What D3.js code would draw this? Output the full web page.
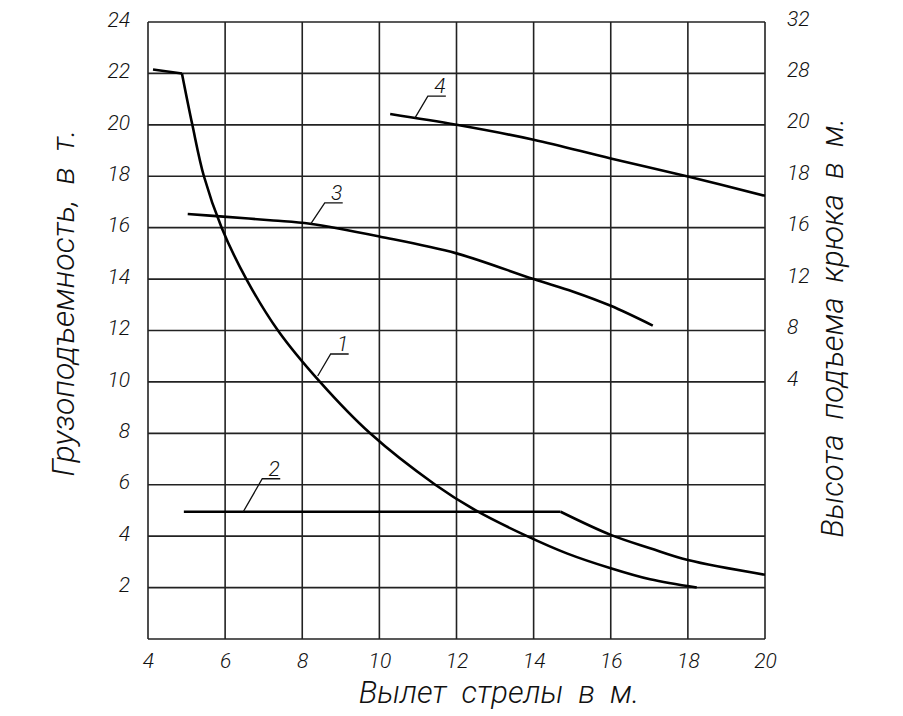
<!DOCTYPE html>
<html>
<head>
<meta charset="utf-8">
<script src="https://cdn.jsdelivr.net/npm/d3@7"></script>
<style>
  html, body { margin: 0; padding: 0; background: #fff; }
  svg { display: block; }
  text { font-family: Roboto, "Noto Sans", sans-serif; font-weight: 300; font-style: italic; fill: #111; white-space: pre; }
</style>
</head>
<body>
<svg id="chart" width="903" height="716"></svg>
<script>
// значения прочитаны с исходного графика
var xTicks = [4, 6, 8, 10, 12, 14, 16, 18, 20];
var yTicks = [2, 4, 6, 8, 10, 12, 14, 16, 18, 20, 22, 24];
var rightTickPos = [24, 22, 20, 18, 16, 14, 12, 10];
var rightTickLabels = ['32', '28', '20', '18', '16', '12', '8', '4'];

var curve1 = [[4.13, 22.15], [4.88, 22.0], [5.15, 20], [5.45, 18], [5.91, 16], [6.55, 14],
    [7.37, 12], [8.46, 10], [9.76, 8], [11.45, 6], [12.5, 5.0],
    [13.83, 4.0], [14.86, 3.33], [16, 2.75], [17.02, 2.32], [18.23, 2.0]];
var curve2 = [[4.93, 4.95], [14.7, 4.95], [16, 4.05], [17.02, 3.53], [18, 3.07], [20, 2.5]];
var curve3 = [[5.03, 16.53], [5.95, 16.43], [7.25, 16.28], [8.2, 16.15], [10.02, 15.65],
    [12, 15.0], [14, 14.0], [15.03, 13.51], [16, 12.96], [17.09, 12.19]];
var curve4 = [[10.28, 20.42], [12, 20.0], [14, 19.42], [16, 18.69], [18, 17.99], [20, 17.24]];

// номер кривой и точка, к которой идёт выноска
var calloutNames = ['1', '2', '3', '4'];
var calloutAt = [[8.4, 10.23], [6.47, 4.95], [8.22, 16.15], [10.92, 20.26]];

var xTitle = 'Вылет  стрелы  в  м.';
var yTitle = 'Грузоподъемность,  в  т.';
var y2Title = 'Высота  подъема  крюка  в  м.';

(function () {
    var svg = d3.select('#chart');
    var left = 148, right = 765, top = 22, bottom = 639;

    var x = d3.scaleLinear().domain([4, 20]).range([left, right]);
    var y = d3.scaleLinear().domain([0, 24]).range([bottom, top]);

    // сетка
    var grid = svg.append('g').attr('stroke', '#222').attr('stroke-width', 1.6);
    grid.selectAll('line.v')
        .data(xTicks)
        .enter()
        .append('line')
        .attr('x1', function (d) { return x(d); })
        .attr('x2', function (d) { return x(d); })
        .attr('y1', y(0))
        .attr('y2', y(24));
    grid.selectAll('line.h')
        .data([0].concat(yTicks))
        .enter()
        .append('line')
        .attr('x1', x(4))
        .attr('x2', x(20))
        .attr('y1', function (d) { return y(d); })
        .attr('y2', function (d) { return y(d); });

    // подписи осей
    var xAxis = d3.axisBottom(x).tickValues(xTicks).tickSize(0).tickPadding(14);
    var yAxis = d3.axisLeft(y).tickValues(yTicks).tickSize(0).tickPadding(18);
    var y2Axis = d3.axisRight(y).tickValues(rightTickPos).tickSize(0).tickPadding(22)
        .tickFormat(function (d, i) { return rightTickLabels[i]; });

    function styleAxis(g) {
        g.select('.domain').remove();
        g.selectAll('text')
            .style('font-size', '21px')
            .attr('fill', '#111');
    }
    svg.append('g').attr('transform', 'translate(0,' + bottom + ')').call(xAxis).call(styleAxis);
    svg.append('g').attr('transform', 'translate(' + left + ',0)').call(yAxis).call(styleAxis)
        .selectAll('text').attr('dy', '0.2em');
    svg.append('g').attr('transform', 'translate(' + right + ',0)').call(y2Axis).call(styleAxis)
        .selectAll('text').attr('dy', '0.15em');
    // d3 ставит свой шрифт на группу оси
    svg.selectAll('g').attr('font-family', null);

    // кривые: до излома прямая, дальше плавная
    var straight = d3.line()
        .x(function (d) { return x(d[0]); })
        .y(function (d) { return y(d[1]); });
    var smooth = d3.line()
        .curve(d3.curveCatmullRom.alpha(0.5))
        .x(function (d) { return x(d[0]); })
        .y(function (d) { return y(d[1]); });

    function drawCurve(points, kink) {
        var g = svg.append('g')
            .attr('fill', 'none')
            .attr('stroke', '#000')
            .attr('stroke-width', 2.6)
            .attr('stroke-linejoin', 'round');
        if (kink > 0) {
            g.append('path').attr('d', straight(points.slice(0, kink + 1)));
        }
        g.append('path').attr('d', smooth(points.slice(kink)));
    }
    drawCurve(curve1, 1);
    drawCurve(curve2, 1);
    drawCurve(curve3, 0);
    drawCurve(curve4, 0);

    // выноски с номерами
    var leaders = [[13, -22], [19, -33], [14, -21], [13, -22]];
    var shelf = 18;
    calloutAt.forEach(function (p, i) {
        var px = x(p[0]), py = y(p[1]);
        var tx = px + leaders[i][0], ty = py + leaders[i][1];
        var g = svg.append('g');
        g.append('path')
            .attr('d', 'M' + px + ',' + py + 'L' + tx + ',' + ty + 'H' + (tx + shelf))
            .attr('fill', 'none')
            .attr('stroke', '#111')
            .attr('stroke-width', 1.3);
        g.append('text')
            .attr('x', tx + shelf - 6)
            .attr('y', ty - 3)
            .attr('text-anchor', 'middle')
            .style('font-size', '21px')
            .text(calloutNames[i]);
    });

    // названия осей
    svg.append('text')
        .attr('x', 499)
        .attr('y', 703)
        .attr('text-anchor', 'middle')
        .style('font-size', '31px')
        .text(xTitle);
    svg.append('text')
        .attr('transform', 'translate(74,' + 303 + ') rotate(-90)')
        .attr('text-anchor', 'middle')
        .style('font-size', '32px')
        .text(yTitle);
    svg.append('text')
        .attr('transform', 'translate(843,' + 328 + ') rotate(-90)')
        .attr('text-anchor', 'middle')
        .style('font-size', '31px')
        .text(y2Title);
})();
</script>
</body>
</html>
